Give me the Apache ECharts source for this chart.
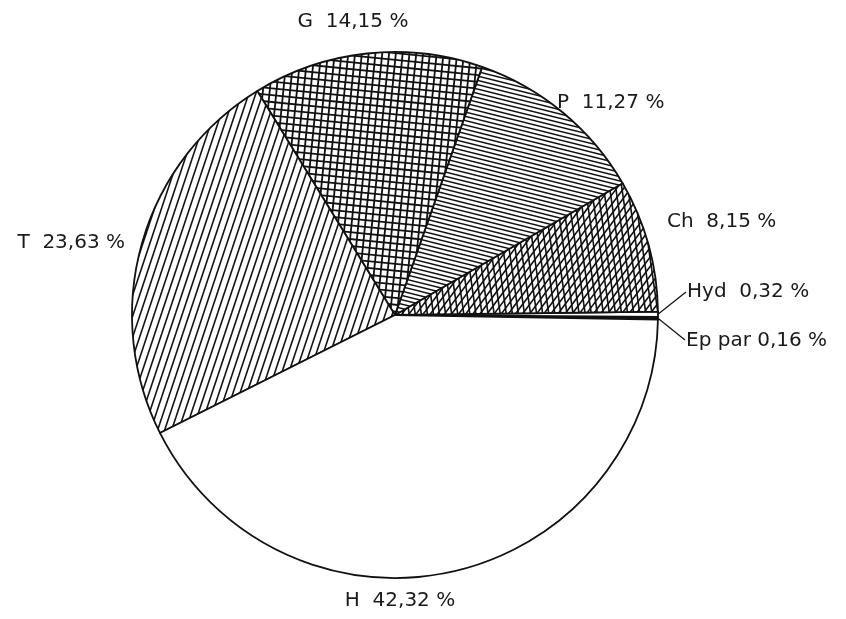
<!DOCTYPE html>
<html>
<head>
<meta charset="utf-8">
<script src="https://cdn.jsdelivr.net/npm/echarts@6/dist/echarts.min.js"></script>
<style>
html, body { margin: 0; padding: 0; background: #fff; }
#main { width: 846px; height: 619px; }
</style>
</head>
<body>
<div id="main"></div>
<script>
/********************************** 数据 ******************************/
// 从正东方向逆时针排列
var sliceNames = ['Ep par', 'Hyd', 'Ch', 'P', 'G', 'T', 'H'];
var sliceValues = [0.16, 0.32, 8.15, 11.27, 14.15, 23.63, 42.32];

/********************************** 纹理 ******************************/
// 平铺的斜线纹理：每组线满足 a*x/w + b*y/h = k/n
function hatch(w, h, families) {
    var c = document.createElement('canvas');
    c.width = w;
    c.height = h;
    var ctx = c.getContext('2d');
    ctx.fillStyle = '#fff';
    ctx.fillRect(0, 0, w, h);
    ctx.strokeStyle = '#111';
    families.forEach(function (f) {
        var a = f[0], b = f[1], n = f[2];
        ctx.lineWidth = f[3] || 1.5;
        var gx = a / w, gy = b / h;
        var g2 = gx * gx + gy * gy, gl = Math.sqrt(g2);
        var lo = Math.min(0, a) + Math.min(0, b) - 1;
        var hi = Math.max(0, a) + Math.max(0, b) + 1;
        var dx = -gy / gl, dy = gx / gl;
        for (var k = Math.floor(lo * n); k <= Math.ceil(hi * n); k++) {
            var t = k / n / g2;
            var px = gx * t, py = gy * t;
            ctx.beginPath();
            ctx.moveTo(px - dx * 2000, py - dy * 2000);
            ctx.lineTo(px + dx * 2000, py + dy * 2000);
            ctx.stroke();
        }
    });
    return { image: c, repeat: 'repeat' };
}

var fills = {
    'Ep par': '#111',
    'Hyd': '#fff',
    'Ch': hatch(85, 85, [[4, 3, 3, 1.6], [7, -1, 2, 1.6]]),
    'P': hatch(52, 13, [[1, -1, 3, 1.5]]),
    'G': hatch(68, 68, [[1, -10, 1, 1.8], [10, 1, 1, 1.8]]),
    'T': hatch(7, 21, [[1, 1, 1, 1.6]]),
    'H': '#fff'
};

// 标签位置
var labelPos = {
    'G': [353, 22, 'center'],
    'P': [557, 103, 'left'],
    'Ch': [667, 222, 'left'],
    'T': [125, 243, 'right'],
    'Hyd': [687, 292, 'left'],
    'Ep par': [686, 341, 'left'],
    'H': [400, 601, 'center']
};

var chart = echarts.init(document.getElementById('main'));
var option = {
    backgroundColor: '#fff',
    animation: false,
    series: [{
        type: 'pie',
        center: [395, 315],
        radius: 263,
        startAngle: -1,
        clockwise: false,
        avoidLabelOverlap: false,
        emphasis: { disabled: true },
        itemStyle: {
            borderColor: '#111',
            borderWidth: 1.8
        },
        label: {
            show: true,
            position: 'outside',
            color: '#1a1a1a',
            fontSize: 20,
            fontFamily: 'DejaVu Sans',
            formatter: function (p) {
                var sep = p.name === 'Ep par' ? ' ' : '  ';
                return p.name + sep + p.value.toFixed(2).replace('.', ',') + ' %';
            }
        },
        labelLine: {
            show: false,
            lineStyle: { color: '#111', width: 1.2 }
        },
        labelLayout: function (p) {
            var name = sliceNames[p.dataIndex];
            var pos = labelPos[name];
            var o = { x: pos[0], y: pos[1], align: pos[2], verticalAlign: 'middle' };
            if (name === 'Hyd' || name === 'Ep par') {
                var start = p.labelLinePoints ? p.labelLinePoints[0] : [659, 315];
                o.labelLinePoints = [start, [pos[0] - 1, pos[1] + (name === 'Hyd' ? 0 : -1)]];
            }
            return o;
        },
        data: sliceNames.map(function (name, i) {
            var item = {
                name: name,
                value: sliceValues[i],
                itemStyle: { color: fills[name] }
            };
            if (name === 'Hyd' || name === 'Ep par') {
                item.labelLine = { show: true, length: 10, length2: 10 };
            }
            return item;
        })
    }]
};
chart.setOption(option);
</script>
</body>
</html>
